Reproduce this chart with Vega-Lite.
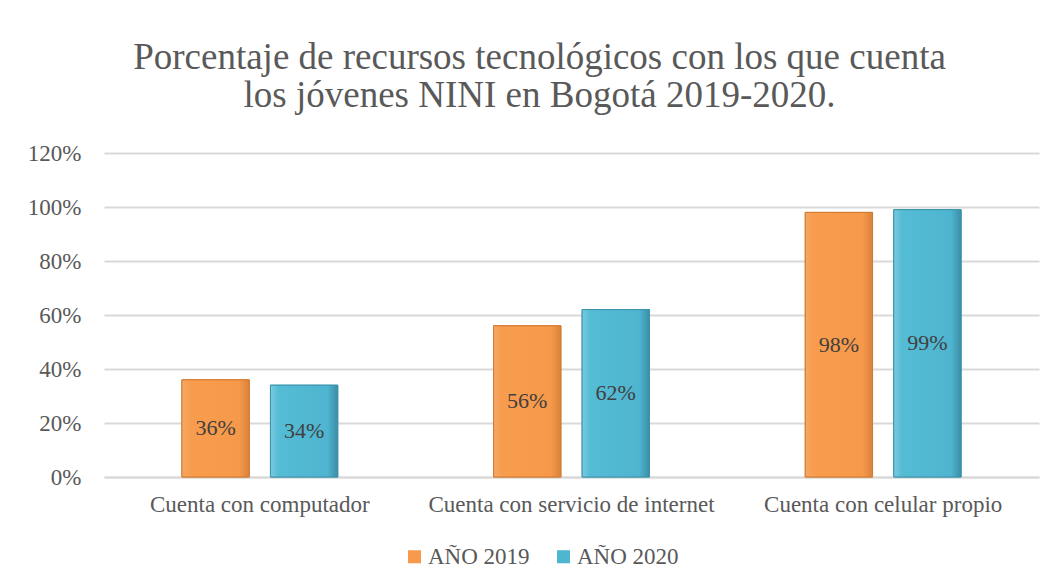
{
  "$schema": "https://vega.github.io/schema/vega-lite/v6.json",
  "width": 935,
  "height": 324,
  "padding": {"left": 27, "top": 39, "right": 13, "bottom": 10},
  "background": "white",
  "title": {
    "text": ["Porcentaje de recursos tecnológicos con los que cuenta", "los jóvenes NINI en Bogotá 2019-2020."],
    "font": "Liberation Serif",
    "fontSize": 37,
    "fontWeight": "normal",
    "color": "#595959",
    "lineHeight": 38,
    "anchor": "middle",
    "dx": -32,
    "offset": 27
  },
  "data": {
    "values": [
      {"cat": "Cuenta con computador", "year": "AÑO 2019", "value": 0.36},
      {"cat": "Cuenta con computador", "year": "AÑO 2020", "value": 0.34},
      {"cat": "Cuenta con servicio de internet", "year": "AÑO 2019", "value": 0.56},
      {"cat": "Cuenta con servicio de internet", "year": "AÑO 2020", "value": 0.62},
      {"cat": "Cuenta con celular propio", "year": "AÑO 2019", "value": 0.98},
      {"cat": "Cuenta con celular propio", "year": "AÑO 2020", "value": 0.99}
    ]
  },
  "encoding": {
    "x": {
      "field": "cat",
      "type": "nominal",
      "sort": ["Cuenta con computador", "Cuenta con servicio de internet", "Cuenta con celular propio"],
      "scale": {"paddingInner": 0.5, "paddingOuter": 0.25},
      "axis": {
        "title": null,
        "labelAngle": 0,
        "labelLimit": 0,
        "labelFont": "Liberation Serif",
        "labelFontSize": 23,
        "labelColor": "#595959",
        "labelPadding": 16,
        "ticks": false,
        "domainColor": "#D9D9D9",
        "domainWidth": 2
      }
    },
    "xOffset": {"field": "year", "type": "nominal", "scale": {"paddingInner": 0.24}}
  },
  "layer": [
    {
      "mark": {"type": "bar", "strokeWidth": 1},
      "encoding": {
        "y": {
          "field": "value",
          "type": "quantitative",
          "scale": {"domain": [0, 1.2]},
          "axis": {
            "title": null,
            "values": [0, 0.2, 0.4, 0.6, 0.8, 1.0, 1.2],
            "format": ".0%",
            "labelFont": "Liberation Serif",
            "labelFontSize": 23,
            "labelColor": "#595959",
            "labelPadding": 23,
            "ticks": false,
            "domain": false,
            "gridColor": "#D9D9D9",
            "gridWidth": 2
          }
        },
        "color": {
          "field": "year",
          "type": "nominal",
          "scale": {"domain": ["AÑO 2019", "AÑO 2020"], "range": ["#F79A4B", "#4EB6D1"]},
          "legend": {
            "title": null,
            "orient": "none",
            "legendX": 299,
            "legendY": 392,
            "direction": "horizontal",
            "symbolType": "square",
            "symbolSize": 170,
            "symbolStrokeWidth": 0,
            "labelFont": "Liberation Serif",
            "labelFontSize": 23,
            "labelColor": "#595959",
            "columnPadding": 22,
            "labelOffset": 2
          }
        },
        "stroke": {
          "field": "year",
          "type": "nominal",
          "scale": {"domain": ["AÑO 2019", "AÑO 2020"], "range": ["#D27A33", "#3B93AB"]},
          "legend": null
        }
      }
    },
    {
      "transform": [{"filter": "datum.year === 'AÑO 2019'"}],
      "mark": {
        "type": "bar",
        "stroke": "#D27A33",
        "strokeWidth": 1,
        "fill": {
          "gradient": "linear", "x1": 0, "y1": 0, "x2": 1, "y2": 0,
          "stops": [
            {"offset": 0, "color": "#F4A868"},
            {"offset": 0.12, "color": "#F89C4E"},
            {"offset": 0.85, "color": "#F7994A"},
            {"offset": 1, "color": "#D9823C"}
          ]
        }
      },
      "encoding": {"y": {"field": "value", "type": "quantitative", "scale": {"domain": [0, 1.2]}, "axis": null}}
    },
    {
      "transform": [{"filter": "datum.year === 'AÑO 2020'"}],
      "mark": {
        "type": "bar",
        "stroke": "#3B93AB",
        "strokeWidth": 1,
        "fill": {
          "gradient": "linear", "x1": 0, "y1": 0, "x2": 1, "y2": 0,
          "stops": [
            {"offset": 0, "color": "#7ACBE0"},
            {"offset": 0.12, "color": "#55BCD6"},
            {"offset": 0.85, "color": "#4EB4CF"},
            {"offset": 1, "color": "#3C8EA6"}
          ]
        }
      },
      "encoding": {"y": {"field": "value", "type": "quantitative", "scale": {"domain": [0, 1.2]}, "axis": null}}
    },
    {
      "mark": {"type": "text", "font": "Liberation Serif", "fontSize": 22, "color": "#404040", "baseline": "middle"},
      "encoding": {
        "text": {"field": "value", "type": "quantitative", "format": ".0%"},
        "y": {"field": "value", "type": "quantitative", "scale": {"domain": [0, 2.4]}, "axis": null}
      }
    }
  ],
  "resolve": {"scale": {"y": "independent"}},
  "config": {"view": {"stroke": null}}
}
